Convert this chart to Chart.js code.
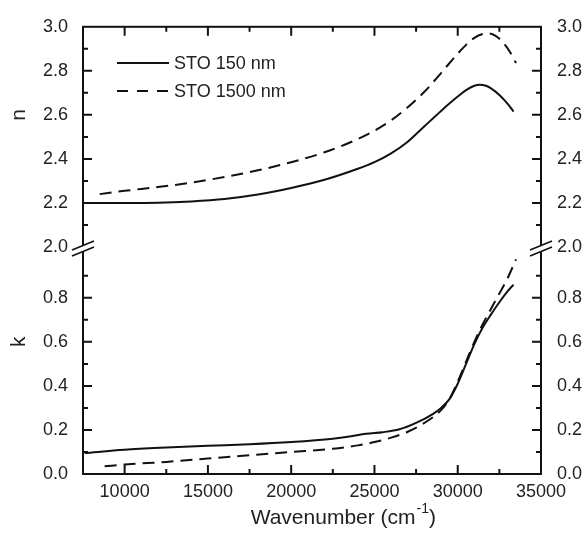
<!DOCTYPE html>
<html>
<head>
<meta charset="utf-8">
<script src="https://cdn.jsdelivr.net/npm/chart.js@4.4.0/dist/chart.umd.min.js"></script>
<style>
  html, body { margin: 0; padding: 0; background: #fff; }
  canvas { display: block; }
</style>
</head>
<body>
<canvas id="chart" width="585" height="534"></canvas>
<script>
// refractive index n
const nWave150 = [7600, 9000, 10000, 12000, 14000, 16000, 18000, 20000, 22000, 24000, 25000, 26000, 27000, 28000, 29000, 30000, 30500, 31000, 31300, 31700, 32000, 32500, 33000, 33350];
const n150 = [2.200, 2.200, 2.200, 2.201, 2.207, 2.218, 2.238, 2.268, 2.305, 2.355, 2.385, 2.425, 2.478, 2.548, 2.618, 2.683, 2.712, 2.732, 2.737, 2.732, 2.720, 2.690, 2.650, 2.615];
const nWave1500 = [8500, 10000, 12000, 14000, 16000, 18000, 20000, 22000, 24000, 25000, 26000, 27000, 28000, 29000, 30000, 30500, 31000, 31500, 31900, 32300, 32700, 33100, 33500];
const n1500 = [2.240, 2.255, 2.272, 2.292, 2.318, 2.348, 2.385, 2.430, 2.490, 2.528, 2.575, 2.635, 2.705, 2.790, 2.878, 2.918, 2.950, 2.967, 2.970, 2.958, 2.930, 2.890, 2.835];

// extinction coefficient k
const kWave150 = [7600, 10000, 12500, 15000, 17500, 20000, 22500, 23500, 24500, 25500, 26500, 27500, 28500, 29000, 29500, 30000, 30500, 31000, 31500, 32000, 32500, 33000, 33350];
const k150 = [0.095, 0.110, 0.120, 0.128, 0.135, 0.145, 0.160, 0.170, 0.183, 0.190, 0.203, 0.232, 0.272, 0.300, 0.340, 0.410, 0.500, 0.590, 0.665, 0.725, 0.780, 0.830, 0.860];
const kWave1500 = [8800, 10000, 12500, 15000, 17500, 20000, 22500, 24000, 25000, 26000, 27000, 28000, 29000, 29500, 30000, 30500, 31000, 31500, 32000, 32500, 33000, 33500];
const k1500 = [0.035, 0.043, 0.055, 0.070, 0.085, 0.100, 0.115, 0.130, 0.145, 0.165, 0.192, 0.232, 0.290, 0.340, 0.420, 0.510, 0.600, 0.680, 0.750, 0.820, 0.890, 0.975];

const seriesLabels = ['STO 150 nm', 'STO 1500 nm'];
const xTicks = [10000, 15000, 20000, 25000, 30000, 35000];
const nTicks = [2.0, 2.2, 2.4, 2.6, 2.8, 3.0];
const kTicks = [0.0, 0.2, 0.4, 0.6, 0.8];

const INK = '#111';
const FONT = 'Liberation Sans, Arial, Helvetica, sans-serif';
const DASH = [12, 7];

function pts(xs, ys) {
    return xs.map((x, i) => ({ x: x, y: ys[i] }));
}

function lineSet(label, data, axis, dashed) {
    return {
        label: label,
        data: data,
        yAxisID: axis,
        borderColor: INK,
        borderWidth: 2,
        borderDash: dashed ? DASH : [],
        pointRadius: 0,
        fill: false,
        cubicInterpolationMode: 'monotone'
    };
}

function yScale(side, stack, weight, min, max, shown) {
    return {
        type: 'linear',
        position: side,
        stack: stack,
        stackWeight: weight,
        min: min,
        max: max,
        grid: { display: false, drawTicks: false },
        border: { display: false },
        afterBuildTicks: s => { s.ticks = shown.map(v => ({ value: v })); },
        ticks: {
            color: '#222',
            padding: side === 'left' ? 15 : 16,
            font: { family: FONT, size: 18 },
            callback: v => Number(v).toFixed(1)
        },
        afterFit: s => { s.width = side === 'left' ? 83 : 44; }
    };
}

// inner tick marks, frame, axis breaks, legend and axis titles
const decorations = {
    id: 'decorations',
    afterDraw(chart) {
        const ctx = chart.ctx;
        const a = chart.chartArea;
        const x = chart.scales.x, yn = chart.scales.yn, yk = chart.scales.yk;
        ctx.save();
        ctx.strokeStyle = INK;
        ctx.lineWidth = 2;
        ctx.lineCap = 'butt';

        ctx.strokeRect(a.left, a.top, a.right - a.left, a.bottom - a.top);

        ctx.beginPath();
        for (let v = 7500; v <= 35000; v += 2500) {
            const px = x.getPixelForValue(v);
            const len = v % 5000 === 0 ? 9 : 5;
            ctx.moveTo(px, a.bottom); ctx.lineTo(px, a.bottom - len);
            ctx.moveTo(px, a.top); ctx.lineTo(px, a.top + len);
        }
        for (let i = 1; i < 10; i++) {
            const py = yn.getPixelForValue(2 + i / 10);
            const len = i % 2 === 0 ? 9 : 5;
            ctx.moveTo(a.left, py); ctx.lineTo(a.left + len, py);
            ctx.moveTo(a.right, py); ctx.lineTo(a.right - len, py);
        }
        for (let i = 1; i < 10; i++) {
            const py = yk.getPixelForValue(i / 10);
            const len = i % 2 === 0 ? 9 : 5;
            ctx.moveTo(a.left, py); ctx.lineTo(a.left + len, py);
            ctx.moveTo(a.right, py); ctx.lineTo(a.right - len, py);
        }
        ctx.stroke();

        // axis breaks
        const by = yn.getPixelForValue(2.0) + 3;
        [a.left, a.right].forEach(bx => {
            ctx.fillStyle = '#fff';
            ctx.beginPath();
            ctx.moveTo(bx - 10, by);
            ctx.lineTo(bx + 10, by - 8);
            ctx.lineTo(bx + 10, by - 2);
            ctx.lineTo(bx - 10, by + 6);
            ctx.closePath();
            ctx.fill();
            ctx.lineWidth = 1.6;
            ctx.beginPath();
            ctx.moveTo(bx - 11, by); ctx.lineTo(bx + 11, by - 9);
            ctx.moveTo(bx - 11, by + 6); ctx.lineTo(bx + 11, by - 3);
            ctx.stroke();
        });

        // legend
        ctx.lineWidth = 2;
        ctx.fillStyle = '#222';
        ctx.font = '18px ' + FONT;
        ctx.textBaseline = 'middle';
        ctx.textAlign = 'left';
        [[63, []], [91, [11, 9]]].forEach((row, i) => {
            ctx.setLineDash(row[1]);
            ctx.beginPath();
            ctx.moveTo(117, row[0]);
            ctx.lineTo(169, row[0]);
            ctx.stroke();
            ctx.fillText(seriesLabels[i], 174, row[0] + 1);
        });
        ctx.setLineDash([]);

        // axis titles
        ctx.font = '21px ' + FONT;
        ctx.textAlign = 'center';
        [['n', yn.getPixelForValue(2.6)], ['k', yk.getPixelForValue(0.6)]].forEach(t => {
            ctx.save();
            ctx.translate(19, t[1]);
            ctx.rotate(-Math.PI / 2);
            ctx.fillText(t[0], 0, 0);
            ctx.restore();
        });

        const main = 'Wavenumber (cm';
        const sup = '-1';
        const tail = ')';
        ctx.font = '21px ' + FONT;
        const w1 = ctx.measureText(main).width;
        const w3 = ctx.measureText(tail).width;
        ctx.font = '14px ' + FONT;
        const w2 = ctx.measureText(sup).width;
        const tx = x.getPixelForValue(23100) - (w1 + w2 + w3) / 2;
        const ty = 518;
        ctx.textAlign = 'left';
        ctx.font = '21px ' + FONT;
        ctx.fillText(main, tx, ty);
        ctx.font = '14px ' + FONT;
        ctx.fillText(sup, tx + w1 + 1, ty - 9);
        ctx.font = '21px ' + FONT;
        ctx.fillText(tail, tx + w1 + w2 + 1, ty);
        ctx.restore();
    }
};

const ctx = document.getElementById('chart').getContext('2d');
new Chart(ctx, {
    type: 'line',
    data: {
        datasets: [
            lineSet(seriesLabels[0], pts(nWave150, n150), 'yn', false),
            lineSet(seriesLabels[1], pts(nWave1500, n1500), 'yn', true),
            lineSet(seriesLabels[0], pts(kWave150, k150), 'yk', false),
            lineSet(seriesLabels[1], pts(kWave1500, k1500), 'yk', true)
        ]
    },
    options: {
        responsive: false,
        animation: false,
        layout: { padding: { top: 19, left: 0, right: 0, bottom: 0 } },
        plugins: { legend: { display: false }, tooltip: { enabled: false } },
        scales: {
            x: {
                type: 'linear',
                min: 7500,
                max: 35000,
                grid: { display: false, drawTicks: false },
                border: { display: false },
                afterBuildTicks: s => { s.ticks = xTicks.map(v => ({ value: v })); },
                ticks: {
                    color: '#222',
                    padding: 7,
                    maxRotation: 0,
                    font: { family: FONT, size: 18 },
                    callback: v => String(v)
                },
                afterFit: s => { s.height = 60; }
            },
            yk: yScale('left', 'L', 231, 0, 1.031, kTicks),
            yn: yScale('left', 'L', 224, 2.0, 3.0, nTicks),
            yn2: yScale('right', 'R', 224, 2.0, 3.0, nTicks),
            yk2: yScale('right', 'R', 231, 0, 1.031, kTicks)
        }
    },
    plugins: [decorations]
});
</script>
</body>
</html>
